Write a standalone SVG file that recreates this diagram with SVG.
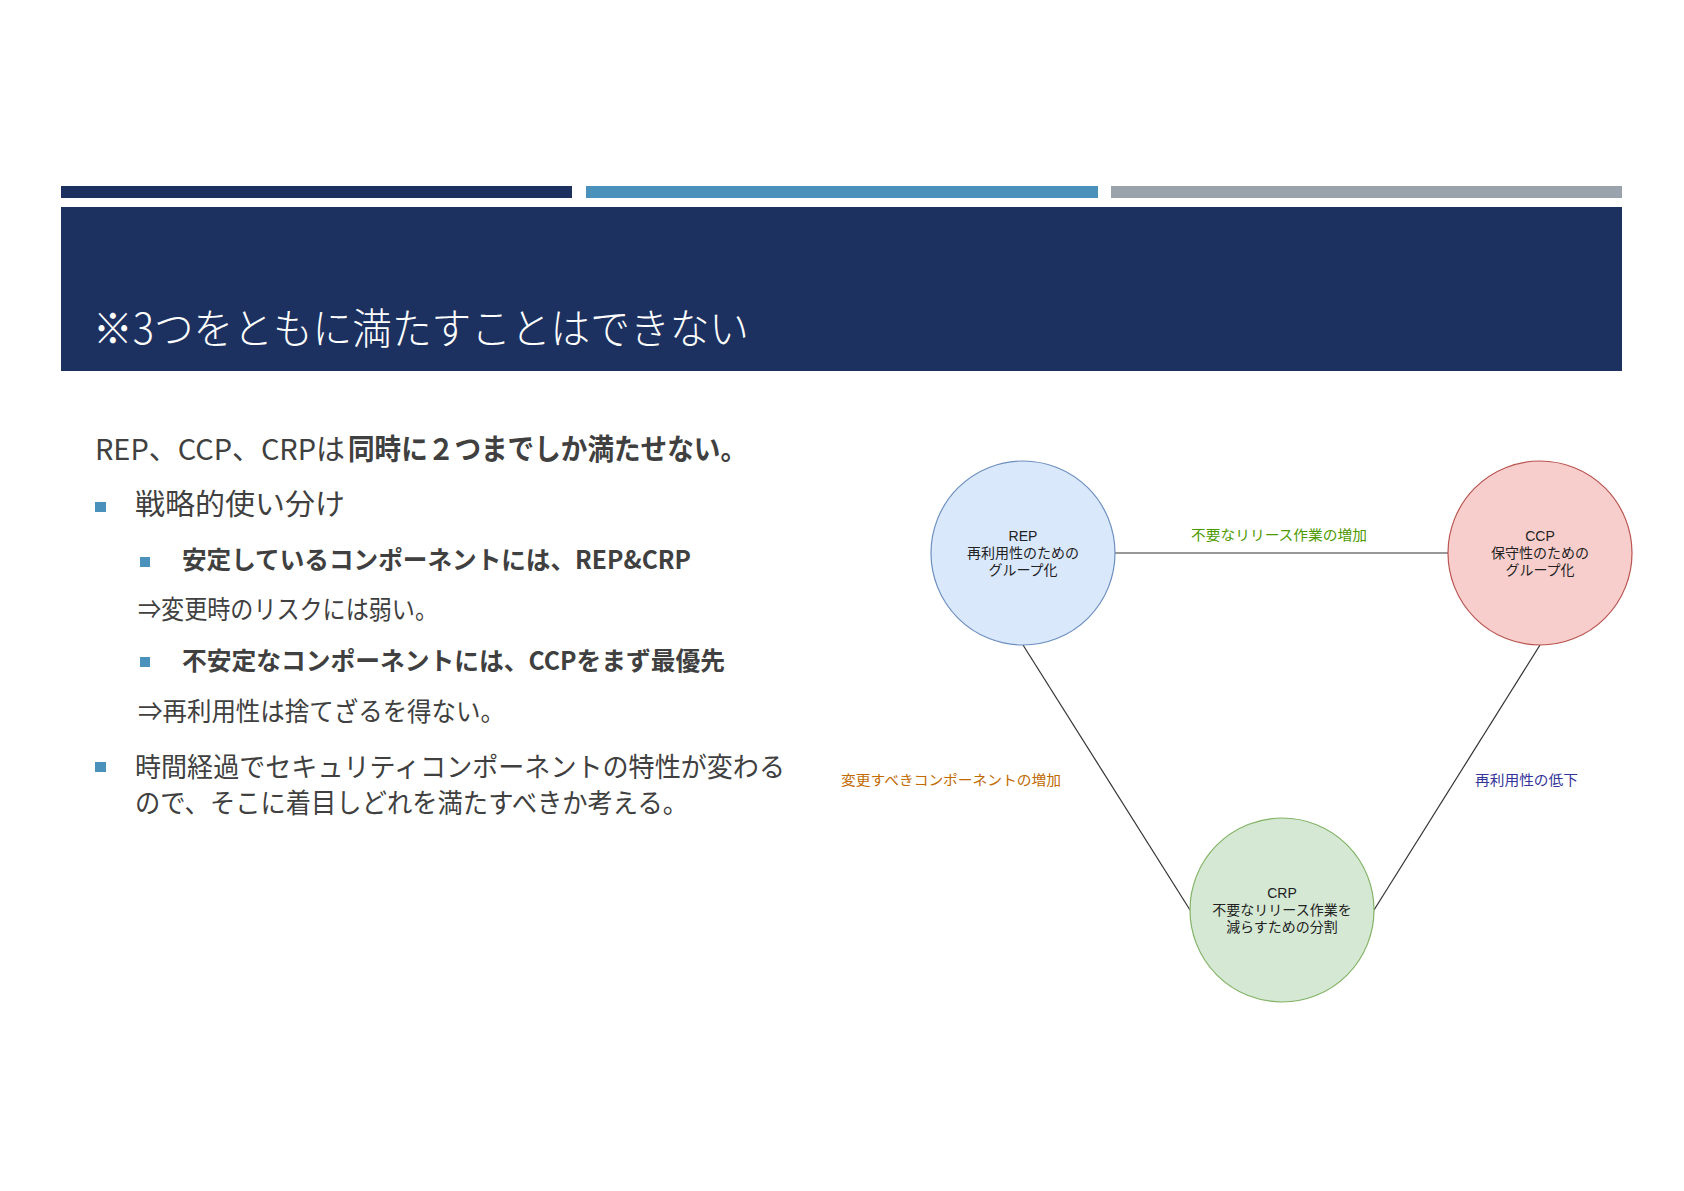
<svg xmlns="http://www.w3.org/2000/svg" width="1684" height="1191" viewBox="0 0 1684 1191">
<style>
  .body { font-family: "Noto Sans CJK JP", "Noto Sans", sans-serif; fill: #404040; }
  .b { font-weight: bold; }
  .bullet { fill: #4a91bb; }
  .node-text { font-family: "Liberation Sans", "Noto Sans CJK JP", sans-serif; font-size: 14px; fill: #222; text-anchor: middle; }
  .edge-label { font-family: "Liberation Sans", "Noto Sans CJK JP", sans-serif; font-size: 14px; }
  .edge { fill: none; stroke: #333; stroke-width: 1.2; }
</style>
<rect width="1684" height="1191" fill="#ffffff"/>
<g id="header">
  <rect x="61" y="186" width="511" height="12" fill="#1c3160"/>
  <rect x="586" y="186" width="512" height="12" fill="#4a91bb"/>
  <rect x="1111" y="186" width="511" height="12" fill="#9aa3ab"/>
  <rect x="61" y="207" width="1561" height="164" fill="#1c3160"/>
  <text x="93" y="344" font-family="Noto Sans CJK JP, sans-serif" font-size="42" font-weight="300" fill="#ffffff" textLength="656" lengthAdjust="spacingAndGlyphs">※3つをともに満たすことはできない</text>
</g>
<g id="body-text">
  <text class="body" x="95" y="460" font-size="29"><tspan textLength="250" lengthAdjust="spacingAndGlyphs">REP、CCP、CRPは</tspan><tspan class="b" x="348" textLength="399" lengthAdjust="spacingAndGlyphs">同時に２つまでしか満たせない。</tspan></text>
  <rect class="bullet" x="95" y="502" width="11" height="10"/>
  <text class="body" x="135" y="515" font-size="29" textLength="210" lengthAdjust="spacingAndGlyphs">戦略的使い分け</text>
  <rect class="bullet" x="140" y="557" width="10" height="10"/>
  <text class="body b" x="182" y="569" font-size="25" textLength="509" lengthAdjust="spacingAndGlyphs">安定しているコンポーネントには、REP&amp;CRP</text>
  <text class="body" x="138" y="619" font-size="26" textLength="300" lengthAdjust="spacingAndGlyphs">⇒変更時のリスクには弱い。</text>
  <rect class="bullet" x="140" y="657" width="10" height="10"/>
  <text class="body b" x="182" y="670" font-size="25" textLength="543" lengthAdjust="spacingAndGlyphs">不安定なコンポーネントには、CCPをまず最優先</text>
  <text class="body" x="138" y="721" font-size="26" textLength="367" lengthAdjust="spacingAndGlyphs">⇒再利用性は捨てざるを得ない。</text>
  <rect class="bullet" x="95" y="762" width="11" height="10"/>
  <text class="body" x="135" y="777" font-size="27" textLength="650" lengthAdjust="spacingAndGlyphs">時間経過でセキュリティコンポーネントの特性が変わる</text>
  <text class="body" x="135" y="813" font-size="27" textLength="553" lengthAdjust="spacingAndGlyphs">ので、そこに着目しどれを満たすべきか考える。</text>
</g>
<g id="connectors">
  <line class="edge" x1="1115" y1="553" x2="1448" y2="553" stroke="#555" stroke-width="1.6"/>
  <line class="edge" x1="1023" y1="645" x2="1190" y2="910"/>
  <line class="edge" x1="1540" y1="645" x2="1374" y2="910"/>
  <text class="edge-label" x="1191" y="540" fill="#4d9900" textLength="176" lengthAdjust="spacingAndGlyphs">不要なリリース作業の増加</text>
  <text class="edge-label" x="841" y="785" fill="#c06a00" textLength="220" lengthAdjust="spacingAndGlyphs">変更すべきコンポーネントの増加</text>
  <text class="edge-label" x="1475" y="785" fill="#333399" textLength="103" lengthAdjust="spacingAndGlyphs">再利用性の低下</text>
</g>
<g id="node-rep">
  <circle cx="1023" cy="553" r="92" fill="#dae8fc" stroke="#6c8ebf" stroke-width="1.2"/>
  <text class="node-text" x="1023" y="541">REP</text>
  <text class="node-text" x="1023" y="558">再利用性のための</text>
  <text class="node-text" x="1023" y="575">グループ化</text>
</g>
<g id="node-ccp">
  <circle cx="1540" cy="553" r="92" fill="#f8cecc" stroke="#b85450" stroke-width="1.2"/>
  <text class="node-text" x="1540" y="541">CCP</text>
  <text class="node-text" x="1540" y="558">保守性のための</text>
  <text class="node-text" x="1540" y="575">グループ化</text>
</g>
<g id="node-crp">
  <circle cx="1282" cy="910" r="92" fill="#d5e8d4" stroke="#82b366" stroke-width="1.2"/>
  <text class="node-text" x="1282" y="898">CRP</text>
  <text class="node-text" x="1282" y="915">不要なリリース作業を</text>
  <text class="node-text" x="1282" y="932">減らすための分割</text>
</g>
</svg>
